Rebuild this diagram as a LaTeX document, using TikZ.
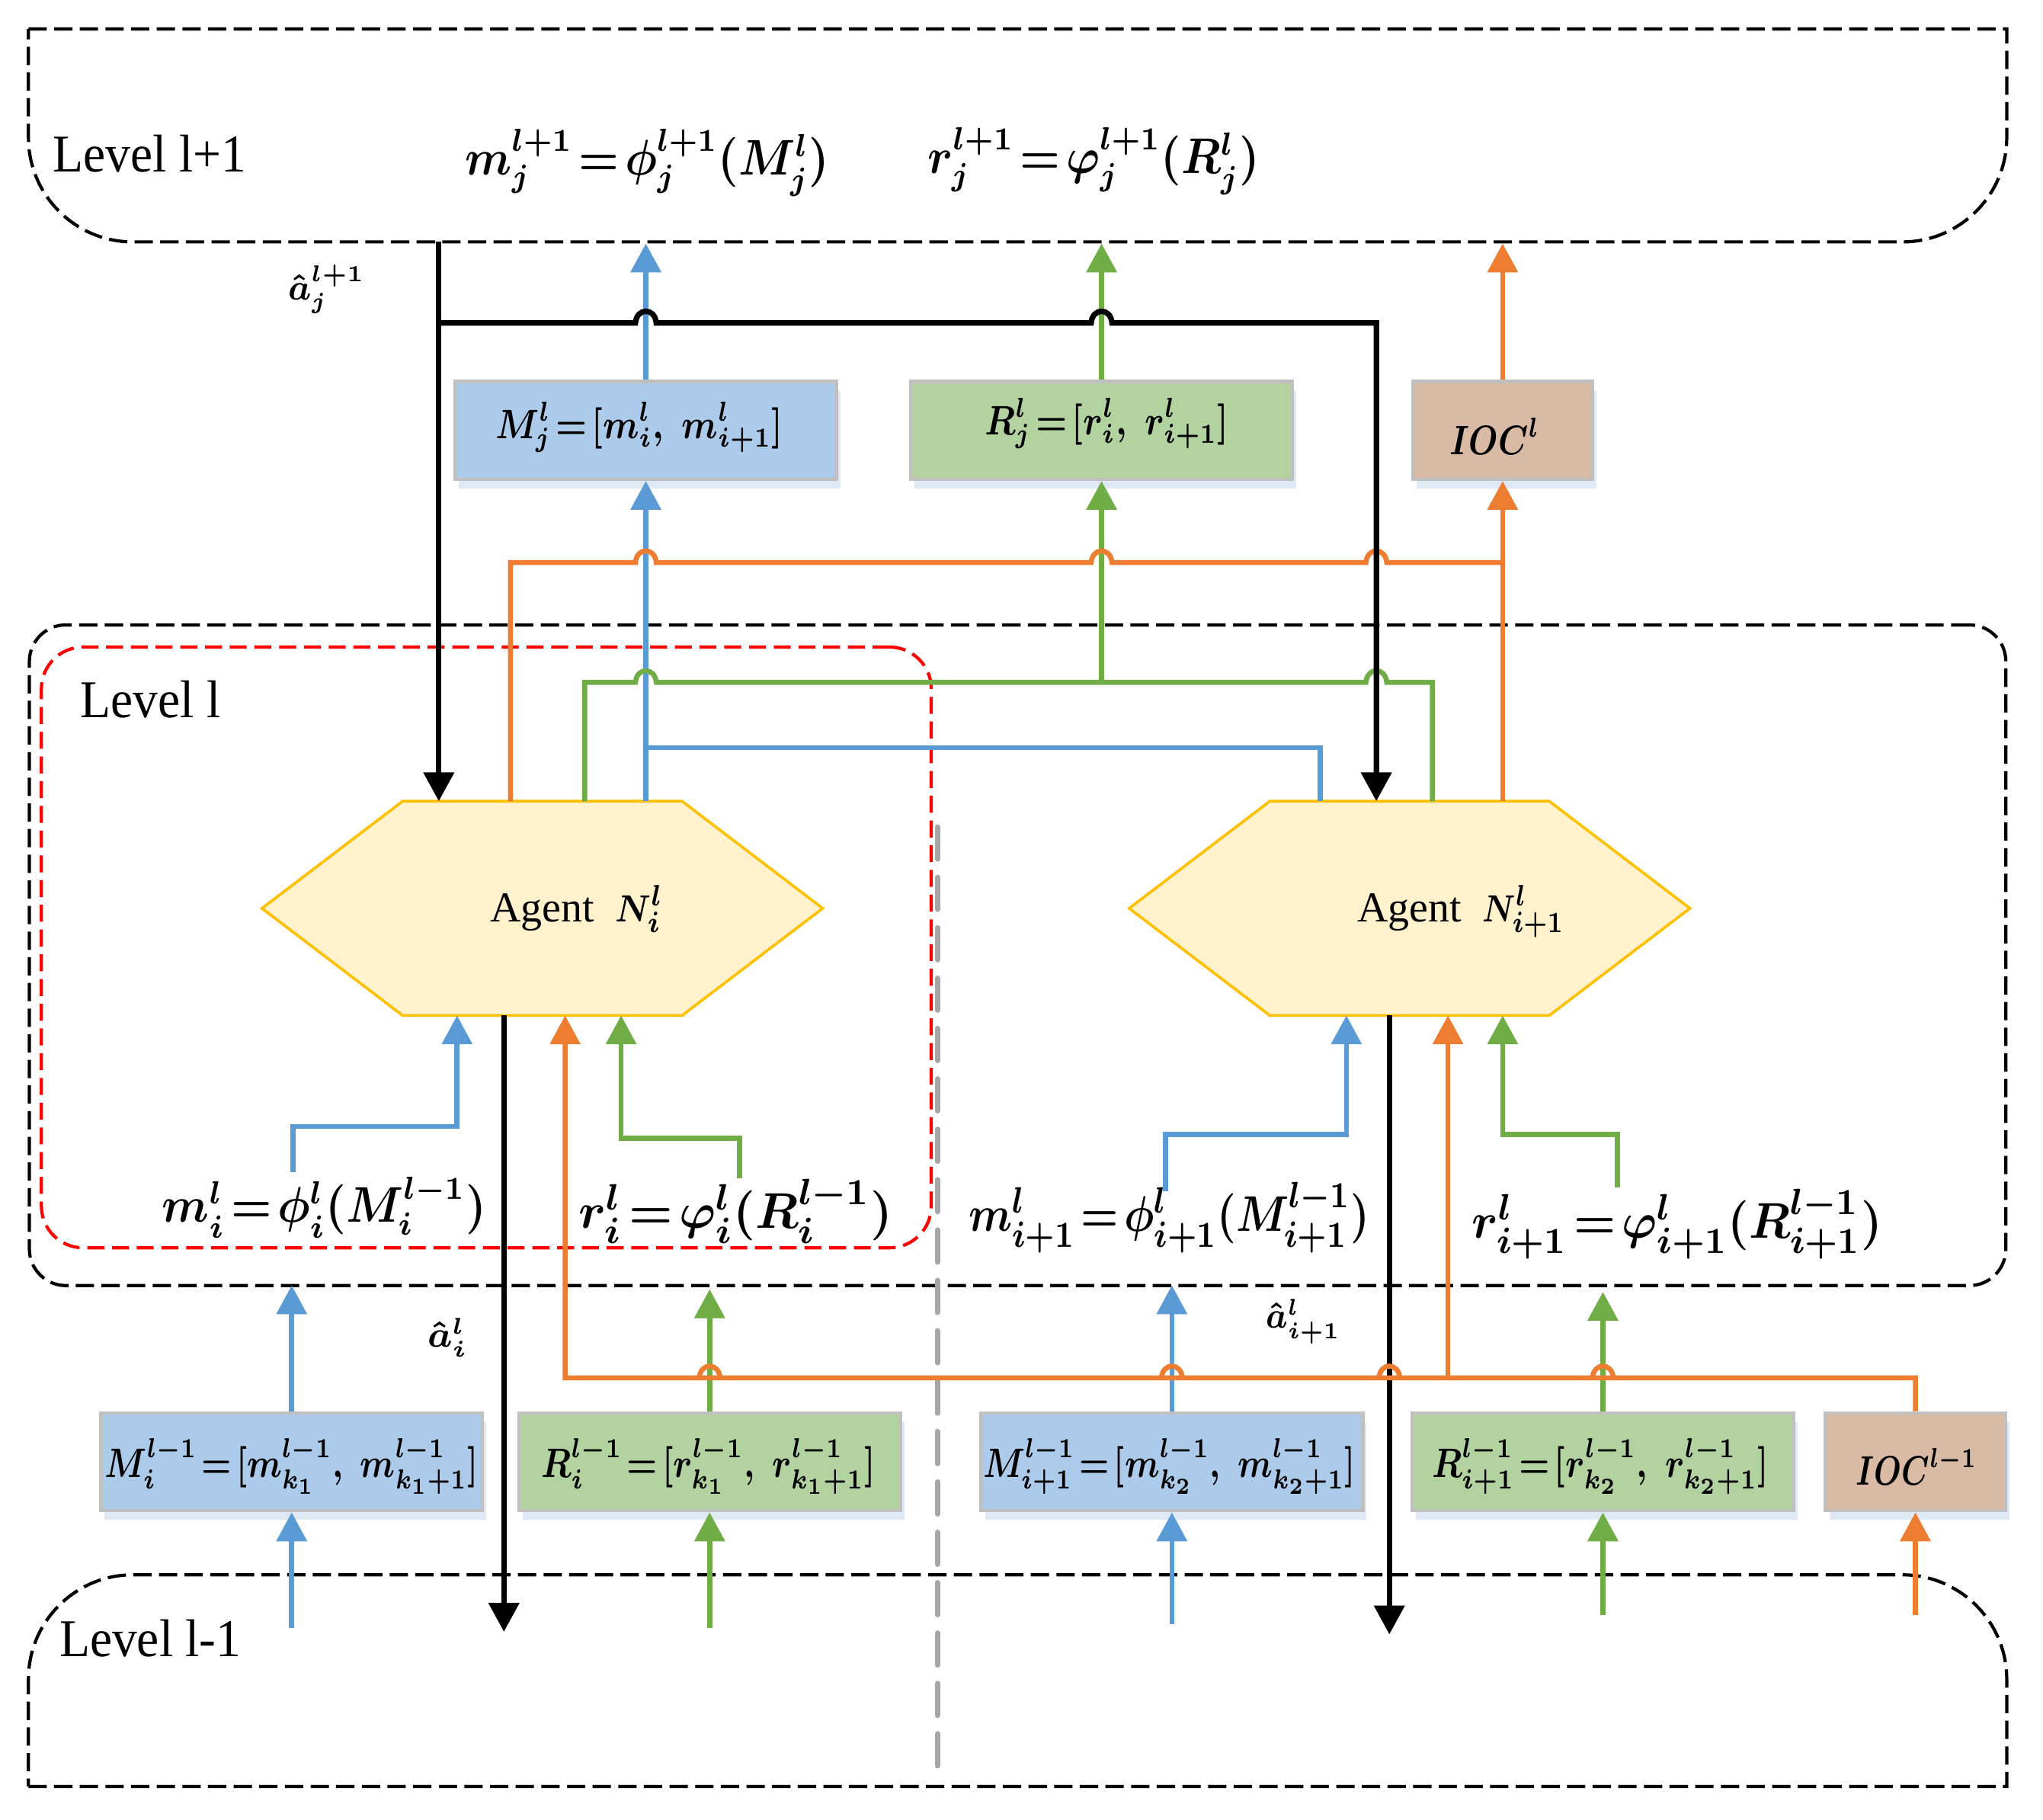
\documentclass[tikz,border=0pt]{standalone}
\usepackage{amsmath,graphicx}
\usepackage[no-math]{fontspec}
\newfontfamily\tnr{Liberation Serif}
\usetikzlibrary{arrows.meta,calc,shadows}
\definecolor{cblue}{HTML}{5B9BD5}
\definecolor{cgreen}{HTML}{70AD47}
\definecolor{corange}{HTML}{ED7D31}
\definecolor{fblue}{RGB}{172,203,234}
\definecolor{fgreen}{RGB}{178,210,160}
\definecolor{forange}{RGB}{216,186,165}
\definecolor{cgray}{RGB}{192,192,192}
\definecolor{cshadow}{RGB}{222,233,244}
\definecolor{hexfill}{HTML}{FFF2CC}
\definecolor{hexline}{HTML}{FFC000}
\definecolor{dashgray}{RGB}{166,166,166}
\newcommand{\hop}[2]{-- ($(#1 |- #2)+(-8,0)$) .. controls ($(#1 |- #2)+(-7,-12)$) and ($(#1 |- #2)+(7,-12)$) .. ($(#1 |- #2)+(8,0)$)}
\newcommand{\sqz}[2]{\scalebox{#1}[1]{$#2$}}
\newcommand{\lvltext}[1]{\scalebox{.94}[1]{#1}}
\tikzset{
  x=0.01cm,y=-0.01cm,
  region/.style={draw=none,inner sep=0pt,minimum width=15.17cm},
  regionline/.style={black,line width=0.7pt,dash pattern=on 4pt off 1.6pt},
  hexbox/.style={inner sep=0pt,minimum width=4.29cm,minimum height=1.63cm},
  hexline/.style={draw=hexline,fill=hexfill,line width=0.6pt,line join=miter},
  databox/.style={inner sep=0pt,minimum height=0.75cm,draw=cgray,line width=0.75pt,general shadow={fill=cshadow,shadow xshift=0.03cm,shadow yshift=-0.07cm}},
  wide/.style={databox,minimum width=2.93cm},
  narrow/.style={databox,minimum width=1.38cm},
  mbox/.style={fill=fblue},
  rbox/.style={fill=fgreen},
  obox/.style={fill=forange},
  eq/.style={inner sep=0pt,font=\fontsize{10.5}{12}\selectfont\boldmath},
  eqlarge/.style={inner sep=0pt,font=\fontsize{11}{13}\selectfont\boldmath},
  eqbox/.style={inner sep=0pt,font=\fontsize{8.6}{10}\selectfont\boldmath},
  eqsmall/.style={inner sep=0pt,font=\fontsize{7.6}{9}\selectfont\boldmath},
  lvl/.style={inner sep=0pt,anchor=west,font=\tnr\fontsize{11.6}{13}\selectfont},
  agentlab/.style={inner sep=0pt,anchor=base,font=\tnr\fontsize{9.3}{11}\selectfont\boldmath},
  tip/.style={-{Triangle[length=6.3pt,width=6.5pt]}},
  blk/.style={black,line width=1.2pt,line join=miter},
  bl/.style={cblue,line width=1.1pt,line join=miter},
  gr/.style={cgreen,line width=1.1pt,line join=miter},
  og/.style={corange,line width=1.1pt,line join=miter},
}
\begin{document}
\begin{tikzpicture}
\useasboundingbox (0,0) rectangle (1569,1397);
% regions
\node[region,minimum height=1.62cm] (levelTop) at (781.5,104) {};
\draw[regionline] (levelTop.north west) -- (levelTop.north east)
  -- ($(levelTop.south east)+(0,-80)$) .. controls ($(levelTop.south east)+(0,-36)$) and ($(levelTop.south east)+(-36,0)$) .. ($(levelTop.south east)+(-80,0)$)
  -- ($(levelTop.south west)+(80,0)$) .. controls ($(levelTop.south west)+(36,0)$) and ($(levelTop.south west)+(0,-36)$) .. ($(levelTop.south west)+(0,-80)$) -- cycle;
\node[region,minimum height=5.07cm,draw=black,line width=0.7pt,dash pattern=on 4pt off 1.6pt,rounded corners=0.28cm] (levelMid) at (781.5,733.5) {};
\node[inner sep=0pt,minimum width=6.83cm,minimum height=4.61cm,draw=red,line width=0.7pt,dash pattern=on 3.7pt off 1.7pt,rounded corners=0.32cm] (redBox) at (373.5,727.5) {};
\node[region,minimum height=1.61cm] (levelLow) at (781.5,1290.5) {};
\draw[regionline] (levelLow.south west) -- (levelLow.south east)
  -- ($(levelLow.north east)+(0,80)$) .. controls ($(levelLow.north east)+(0,36)$) and ($(levelLow.north east)+(-36,0)$) .. ($(levelLow.north east)+(-80,0)$)
  -- ($(levelLow.north west)+(80,0)$) .. controls ($(levelLow.north west)+(36,0)$) and ($(levelLow.north west)+(0,36)$) .. ($(levelLow.north west)+(0,80)$) -- cycle;
\coordinate (sepTop) at (720,635);
\coordinate (sepEnd) at (720,1362);
\draw[dashgray,line width=1.15pt,line cap=round,dash pattern=on 7pt off 4pt] (sepTop) -- (sepEnd);
% labels of regions
\node[lvl] (lblTop) at (40,118) {\lvltext{Level l+1}};
\node[lvl] (lblMid) at (61,537) {\lvltext{Level l}};
\node[lvl] (lblLow) at (45,1258) {\lvltext{Level l-1}};
% agents
\node[hexbox] (agentL) at (416.5,697.5) {};
\node[hexbox] (agentR) at (1082.5,697.5) {};
\foreach \a in {agentL,agentR}{
  \draw[hexline] (\a.west) -- ($(\a.north west)+(108,0)$) -- ($(\a.north east)+(-108,0)$) -- (\a.east)
    -- ($(\a.south east)+(-108,0)$) -- ($(\a.south west)+(108,0)$) -- cycle;
}
\node[agentlab] (agentLtxt) at (443,708) {Agent\ \ \scalebox{.8}[.92]{$N_i^l$}};
\node[agentlab] (agentRtxt) at (1122,708) {Agent\ \ \scalebox{.74}[.92]{$N_{i+1}^l$}};
% boxes
\node[wide,mbox] (boxMj) at (496,330.5) {};
\node[wide,rbox] (boxRj) at (846,330.5) {};
\node[narrow,obox] (boxIj) at (1154,330.5) {};
\node[wide,mbox] (boxMi) at (224,1122.5) {};
\node[wide,rbox] (boxRi) at (545,1122.5) {};
\node[wide,mbox] (boxMn) at (900,1122.5) {};
\node[wide,rbox] (boxRn) at (1231,1122.5) {};
\node[narrow,obox] (boxIi) at (1471,1122.5) {};
% box texts
\node[eqbox] (tMj) at (491,328) {\sqz{.826}{M_j^l\!=\![m_i^l,\ m_{i+1}^l]}};
\node[eqbox] (tRj) at (850,325) {\sqz{.83}{R_j^l\!=\![r_i^l,\ r_{i+1}^l]}};
\node[eqbox] (tIj) at (1148,335) {\sqz{.8}{IOC^l}};
\node[eqbox] (tMi) at (224,1126) {\sqz{.795}{M_i^{l-1}\!=\![m_{k_1}^{l-1},\ m_{k_1+1}^{l-1}]}};
\node[eqbox] (tRi) at (544,1126) {\sqz{.81}{R_i^{l-1}\!=\![r_{k_1}^{l-1},\ r_{k_1+1}^{l-1}]}};
\node[eqbox] (tMn) at (898,1126) {\sqz{.793}{M_{i+1}^{l-1}\!=\![m_{k_2}^{l-1},\ m_{k_2+1}^{l-1}]}};
\node[eqbox] (tRn) at (1229,1126) {\sqz{.814}{R_{i+1}^{l-1}\!=\![r_{k_2}^{l-1},\ r_{k_2+1}^{l-1}]}};
\node[eqbox] (tIi) at (1472,1126) {\sqz{.745}{IOC^{l-1}}};
% equations
\node[eq] (eqMt) at (497,125) {\sqz{.9}{m_j^{l+1}\!=\!\phi_j^{l+1}(M_j^l)}};
\node[eq] (eqRt) at (840,124) {\sqz{.9}{r_j^{l+1}\!=\!\varphi_j^{l+1}(R_j^l)}};
\node[eq] (eqMi) at (249,927) {\sqz{.91}{m_i^l\!=\!\phi_i^l(M_i^{l-1})}};
\node[eqlarge] (eqRi) at (565,930) {\sqz{.98}{r_i^l\!=\!\varphi_i^l(R_i^{l-1})}};
\node[eqlarge] (eqMn) at (898,935) {\sqz{.84}{m_{i+1}^l\!=\!\phi_{i+1}^l(M_{i+1}^{l-1})}};
\node[eqlarge] (eqRn) at (1288,940) {\sqz{.94}{r_{i+1}^l\!=\!\varphi_{i+1}^l(R_{i+1}^{l-1})}};
\node[eqsmall] (aTop) at (251,222) {\sqz{.93}{\hat a_j^{l+1}}};
\node[eqsmall] (aLow) at (344,1027) {$\hat a_i^l$};
\node[eqsmall] (aNxt) at (1001,1015) {\sqz{.88}{\hat a_{i+1}^l}};
% guides
\coordinate (gBlackL) at (337,0);
\coordinate (gOrangeL) at (392,0);
\coordinate (gGreenL) at (449,0);
\coordinate (gBlueR) at (1014,0);
\coordinate (gBlackR) at (1057,0);
\coordinate (gGreenR) at (1100,0);
\coordinate (gDownL) at (387,0);
\coordinate (gDownR) at (1067,0);
\coordinate (gInOL) at (434,0);
\coordinate (gInOR) at (1112,0);
\coordinate (yBlack) at (0,248);
\coordinate (yOrange) at (0,432);
\coordinate (yGreen) at (0,524);
\coordinate (yBlue) at (0,574);
\coordinate (yOrangeLow) at (0,1058);
\coordinate (tipTopB) at (496,187);
\coordinate (tipTopG) at (846,187);
\coordinate (tipTopO) at (1154,187);
% connectors, upper part
\draw[bl,tip] (boxMj.north) -- (tipTopB);
\draw[gr,tip] (boxRj.north) -- (tipTopG);
\draw[og,tip] (boxIj.north) -- (tipTopO);
\draw[bl,tip] (agentL.north -| boxMj) -- (boxMj.south);
\draw[bl] (agentR.north -| gBlueR) -- (gBlueR |- yBlue) -- (boxMj |- yBlue);
\draw[gr,tip] (boxRj |- yGreen) -- (boxRj.south);
\draw[gr] (agentL.north -| gGreenL) -- (gGreenL |- yGreen) \hop{boxMj}{yGreen} \hop{gBlackR}{yGreen} -- (gGreenR |- yGreen) -- (gGreenR |- agentR.north);
\draw[og,tip] (agentR.north -| boxIj) -- (boxIj.south);
\draw[og] (agentL.north -| gOrangeL) -- (gOrangeL |- yOrange) \hop{boxMj}{yOrange} \hop{boxRj}{yOrange} \hop{gBlackR}{yOrange} -- (boxIj |- yOrange);
\draw[blk,tip] (levelTop.south -| gBlackL) -- (agentL.north -| gBlackL);
\draw[blk,tip] (gBlackL |- yBlack) \hop{boxMj}{yBlack} \hop{boxRj}{yBlack} -- (gBlackR |- yBlack) -- (gBlackR |- agentR.north);
% connectors, inside the middle level
\coordinate (footMi) at (225,900);
\coordinate (kneeMi) at (351,865);
\coordinate (footRi) at (568,905);
\coordinate (kneeRi) at (477,874);
\coordinate (footMn) at (895,915);
\coordinate (kneeMn) at (1034,871);
\coordinate (footRn) at (1242,912);
\coordinate (kneeRn) at (1154,871);
\draw[bl,tip] (footMi) |- (kneeMi) -- (agentL.south -| kneeMi);
\draw[gr,tip] (footRi) |- (kneeRi) -- (agentL.south -| kneeRi);
\draw[bl,tip] (footMn) |- (kneeMn) -- (agentR.south -| kneeMn);
\draw[gr,tip] (footRn) |- (kneeRn) -- (agentR.south -| kneeRn);
% connectors, lower part
\coordinate (tipMi) at (224,987);
\coordinate (tipRi) at (545,990);
\coordinate (tipMn) at (900,987);
\coordinate (tipRn) at (1231,992);
\draw[bl,tip] (boxMi.north) -- (tipMi);
\draw[gr,tip] (boxRi.north) -- (tipRi);
\draw[bl,tip] (boxMn.north) -- (tipMn);
\draw[gr,tip] (boxRn.north) -- (tipRn);
\coordinate (srcMi) at (224,1250);
\coordinate (srcRi) at (545,1250);
\coordinate (srcMn) at (900,1247);
\coordinate (srcRn) at (1231,1240);
\coordinate (srcIi) at (1471,1240);
\draw[bl,tip] (srcMi) -- (boxMi.south);
\draw[gr,tip] (srcRi) -- (boxRi.south);
\draw[bl,tip] (srcMn) -- (boxMn.south);
\draw[gr,tip] (srcRn) -- (boxRn.south);
\draw[og,tip] (srcIi) -- (boxIi.south);
\coordinate (endL) at (387,1253);
\coordinate (endR) at (1067,1255);
\draw[blk,tip] (agentL.south -| gDownL) -- (endL);
\draw[blk,tip] (agentR.south -| gDownR) -- (endR);
\draw[og,tip] (boxIi.north) -- (boxIi |- yOrangeLow) \hop{boxRn}{yOrangeLow} -- (gInOR |- yOrangeLow) \hop{gDownR}{yOrangeLow} \hop{boxMn}{yOrangeLow} \hop{boxRi}{yOrangeLow} -- (gInOL |- yOrangeLow) -- (agentL.south -| gInOL);
\draw[og,tip] (gInOR |- yOrangeLow) -- (agentR.south -| gInOR);
\end{tikzpicture}
\end{document}
